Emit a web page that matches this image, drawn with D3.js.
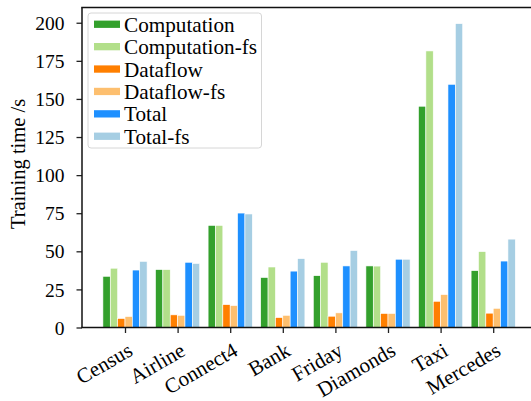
<!DOCTYPE html>
<html>
<head>
<meta charset="utf-8">
<script src="https://cdn.jsdelivr.net/npm/d3@7"></script>
<style>
  html, body { margin: 0; padding: 0; background: #fff; }
  svg { display: block; }
</style>
</head>
<body>
<svg id="chart" width="531" height="401"></svg>
<script>
const categories = ["Census", "Airline", "Connect4", "Bank", "Friday", "Diamonds", "Taxi", "Mercedes"];
const seriesNames = ["Computation", "Computation-fs", "Dataflow", "Dataflow-fs", "Total", "Total-fs"];
const computation   = [33.6, 38.0, 67.0, 32.8, 34.0, 40.4, 145.2, 37.3];
const computationFs = [38.9, 38.0, 67.0, 39.7, 42.8, 40.3, 181.5, 49.8];
const dataflow      = [5.9, 8.3, 15.0, 6.5, 7.4, 9.2, 17.2, 9.4];
const dataflowFs    = [7.2, 8.0, 14.4, 8.0, 9.6, 9.2, 21.6, 12.6];
const total         = [37.7, 42.8, 75.1, 37.0, 40.4, 44.8, 159.6, 43.6];
const totalFs       = [43.4, 42.0, 74.5, 45.2, 50.5, 44.8, 199.4, 58.0];
const yTicks = [0, 25, 50, 75, 100, 125, 150, 175, 200];
const colors = ["#33a02c", "#b2df8a", "#ff7f00", "#fdbf6f", "#1e90ff", "#a6cee3"];

const seriesValues = [computation, computationFs, dataflow, dataflowFs, total, totalFs];
const FONT = "Liberation Serif";

const svg = d3.select("#chart");
const pLeft = 82, pTop = 7.5, pBottom = 327.5, pRight = 545;

const x = d3.scaleLinear().domain([0, 1]).range([125, 177.6]);
const y = d3.scaleLinear().domain([0, 210]).range([pBottom, pTop]);
const barW = 0.14;

// bars
seriesValues.forEach((vals, k) => {
  svg.append("g").selectAll("rect")
    .data(vals)
    .join("rect")
    .attr("x", (d, i) => x(i + (k - 3) * barW))
    .attr("width", x(barW) - x(0))
    .attr("y", d => y(d))
    .attr("height", d => y(0) - y(d))
    .attr("fill", colors[k])
    .attr("stroke", "#fff")
    .attr("stroke-width", 0.6);
});

// y axis
const yAxis = d3.axisLeft(y).tickValues(yTicks).tickSize(5.5).tickPadding(12);
const gy = svg.append("g").attr("transform", `translate(${pLeft},0)`).call(yAxis);
gy.select(".domain").remove();
gy.attr("font-family", FONT);
gy.selectAll(".tick line").attr("stroke", "#222").attr("stroke-width", 1.3);
gy.selectAll(".tick text")
  .style("font-family", FONT).style("font-size", "19.5px").style("fill", "#000")
  .attr("dy", "0.34em");

// x axis
const xAxis = d3.axisBottom(x).tickValues(d3.range(categories.length)).tickSize(5.5).tickFormat(() => "");
const gx = svg.append("g").attr("transform", `translate(0,${pBottom})`).call(xAxis);
gx.select(".domain").remove();
gx.selectAll(".tick line").attr("stroke", "#222").attr("stroke-width", 1.3);

// x labels rotated
svg.append("g").selectAll("text")
  .data(categories)
  .join("text")
  .attr("transform", (d, i) => `translate(${x(i) + 9},${pBottom + 27}) rotate(-30)`)
  .attr("text-anchor", "end")
  .style("font-family", FONT)
  .style("font-size", "21px")
  .text(d => d);

// spines
svg.append("line").attr("x1", pLeft).attr("x2", pLeft).attr("y1", pTop).attr("y2", pBottom)
  .attr("stroke", "#111").attr("stroke-width", 1.5);
svg.append("line").attr("x1", pLeft - 0.75).attr("x2", pRight).attr("y1", pBottom).attr("y2", pBottom)
  .attr("stroke", "#111").attr("stroke-width", 1.5);
svg.append("line").attr("x1", pLeft - 0.75).attr("x2", pRight).attr("y1", pTop).attr("y2", pTop)
  .attr("stroke", "#111").attr("stroke-width", 1.5);

// y label
svg.append("text")
  .attr("transform", `translate(25,164) rotate(-90)`)
  .attr("text-anchor", "middle")
  .style("font-family", FONT)
  .style("font-size", "20.5px")
  .text("Training time /s");

// legend
const lg = svg.append("g");
lg.append("rect").attr("x", 88).attr("y", 13).attr("width", 173.5).attr("height", 135)
  .attr("rx", 3).attr("fill", "#fff").attr("fill-opacity", 0.8)
  .attr("stroke", "#d6d6d6").attr("stroke-width", 1);
const rowY = d3.scaleLinear().domain([0, 1]).range([24.2, 46.6]);
seriesNames.forEach((name, k) => {
  lg.append("rect").attr("x", 94).attr("y", rowY(k) - 3.6).attr("width", 26).attr("height", 7.3)
    .attr("fill", colors[k]);
  lg.append("text").attr("x", 124).attr("y", rowY(k)).attr("dy", "0.36em")
    .style("font-family", FONT)
    .style("font-size", "21.2px").text(name);
});
</script>
</body>
</html>
